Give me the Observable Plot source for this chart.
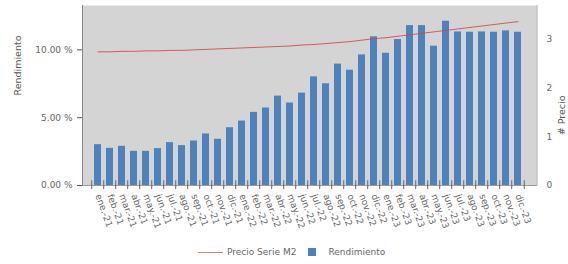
<!DOCTYPE html>
<html>
<head>
<meta charset="utf-8">
<script src="https://cdn.jsdelivr.net/npm/d3@7"></script>
<script src="https://cdn.jsdelivr.net/npm/@observablehq/plot@0.6"></script>
<style>
  body { margin: 0; background: #fff; font-family: "DejaVu Sans", sans-serif; overflow: hidden; }
  #legend { display: flex; align-items: center; margin-left: 198px; height: 24px; font-size: 9px; color: #666; }
  #legend .sw-line { width: 25px; height: 0; border-top: 1px solid #e07a7a; margin-right: 4px; }
  #legend .sw-box { width: 8px; height: 8px; background: #4f81bd; margin-left: 12px; margin-right: 12px; }
</style>
</head>
<body>
<div id="chart"></div>
<div id="legend"><span class="sw-line"></span><span>Precio Serie M2</span><span class="sw-box"></span><span>Rendimiento</span></div>
<script>
const months = ["ene.-21","feb.-21","mar.-21","abr.-21","may.-21","jun.-21","jul.-21","ago.-21","sep.-21","oct.-21","nov.-21","dic.-21",
  "ene.-22","feb.-22","mar.-22","abr.-22","may.-22","jun.-22","jul.-22","ago.-22","sep.-22","oct.-22","nov.-22","dic.-22",
  "ene.-23","feb.-23","mar.-23","abr.-23","may.-23","jun.-23","jul.-23","ago.-23","sep.-23","oct.-23","nov.-23","dic.-23"];
const rendimiento = [3.01,2.74,2.89,2.52,2.52,2.72,3.16,2.94,3.28,3.80,3.41,4.26,
  4.75,5.39,5.71,6.59,6.08,6.81,8.01,7.50,8.95,8.50,9.63,10.96,
  9.75,10.76,11.79,11.79,10.27,12.11,11.32,11.30,11.32,11.30,11.40,11.30];
const precio = [2.74,2.74,2.75,2.75,2.76,2.76,2.77,2.77,2.78,2.79,2.80,2.81,
  2.82,2.83,2.84,2.85,2.86,2.88,2.89,2.91,2.93,2.95,2.98,3.01,
  3.03,3.06,3.09,3.12,3.15,3.18,3.21,3.24,3.27,3.30,3.33,3.36];
const leftTicks = [0, 5, 10];
const rightTicks = [0, 1, 2, 3];
const leftMax = 13.27;
const rightMax = 3.69;
const k = leftMax / rightMax;

const bars = months.map((m, i) => ({m, v: rendimiento[i]}));
const line = months.map((m, i) => ({m, v: precio[i] * k}));

const W = 568, H = 240;
const marginLeft = 82, marginRight = 31;
const step = (537 - 82 - 4) / (36 - 0.42 + 2 * 0.19);

const chart = Plot.plot({
  width: W, height: H,
  marginLeft, marginRight, marginTop: 5, marginBottom: H - 185,
  style: {fontFamily: "DejaVu Sans, sans-serif", fontSize: "9px", color: "#666", background: "#fff"},
  x: {domain: months, paddingInner: 0.42, paddingOuter: 0.19, insetRight: 4},
  y: {domain: [0, leftMax]},
  marks: [
    Plot.frame({fill: "#d4d4d4", stroke: null}),
    Plot.barY(bars, {x: "m", y: "v", fill: "#4f81bd"}),
    Plot.line(line, {x: "m", y: "v", stroke: "#d04848", strokeWidth: 1, strokeOpacity: 0.85}),
    Plot.ruleY([0], {stroke: "#999"}),
    Plot.axisY({anchor: "left", ticks: leftTicks, tickFormat: d => d.toFixed(2) + " %", tickSize: 5, tickPadding: 5, stroke: "#555", label: null}),
    Plot.axisY({anchor: "right", ticks: rightTicks.map(t => t * k), tickFormat: d => String(Math.round(d / k)), tickSize: 0, tickPadding: 9, label: null}),
    Plot.axisX({anchor: "bottom", tickSize: 0, tickPadding: 9, tickRotate: 70, label: null}),
    Plot.ruleX(months, {x: d => d, y1: -0.3, y2: 0.35, dx: -step / 2, stroke: "#666"}),
    Plot.ruleX(months.slice(-1), {x: d => d, y1: -0.3, y2: 0.35, dx: step / 2, stroke: "#666"}),
    Plot.text(["Rendimiento"], {frameAnchor: "left", dx: -65, rotate: -90, text: d => d, fill: "#555", fontSize: 9.5}),
    Plot.text(["# Precio"], {frameAnchor: "right", dx: 24, dy: 0, rotate: -90, text: d => d, fill: "#555", fontSize: 9.5})
  ]
});
document.getElementById("chart").append(chart);
const svg = d3.select(chart);
svg.append("line").attr("x1", marginLeft + 0.5).attr("x2", marginLeft + 0.5).attr("y1", 5).attr("y2", 185).attr("stroke", "#888");
svg.append("line").attr("x1", 537).attr("x2", 537).attr("y1", 5).attr("y2", 185).attr("stroke", "#bbb");
</script>
</body>
</html>
